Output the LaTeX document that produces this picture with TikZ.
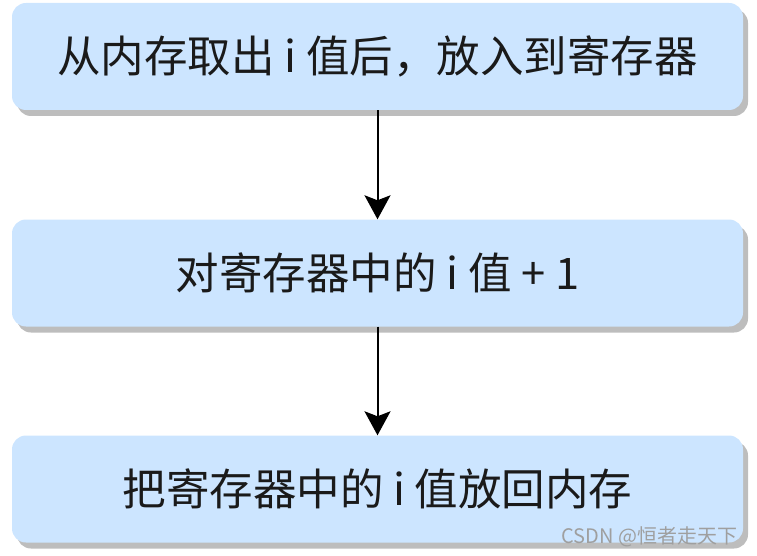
\documentclass[tikz,border=0pt]{standalone}
\usepackage{fontspec}
\newfontfamily\cjk{Noto Sans CJK SC}
\usetikzlibrary{arrows.meta,shadows}
\definecolor{boxfill}{HTML}{CCE5FF}
\definecolor{shadowgray}{HTML}{BDBDBD}
\definecolor{textdark}{HTML}{1A1A1A}

\begin{document}
\begin{tikzpicture}[x=1pt,y=-1pt,
	stepbox/.style={fill=boxfill,draw=none,rounded corners=14pt,minimum width=731pt,minimum height=107pt,
		font=\cjk\fontsize{43.5}{48}\selectfont,text=textdark,
		drop shadow={shadow xshift=5pt,shadow yshift=-6pt,fill=shadowgray,opacity=1}},
	flow/.style={-{Stealth[width=26pt,length=24pt,inset=5pt]},line width=2pt}]
	\useasboundingbox (0,0) rectangle (757,556);
	\node[stepbox](fetch) at (377.5,56.5){从内存取出 i 值后，放入到寄存器};
	\node[stepbox](incr) at (377.5,273){对寄存器中的 i 值 + 1};
	\node[stepbox](store) at (377.5,489){把寄存器中的 i 值放回内存};
	\draw[flow](fetch.south) -- (incr.north);
	\draw[flow](incr.south) -- (store.north);
	% watermark
	\node[anchor=east,font=\cjk\fontsize{20}{23}\selectfont,text=gray!75](mark) at (741,537){CSDN @恒者走天下};
\end{tikzpicture}
\end{document}
